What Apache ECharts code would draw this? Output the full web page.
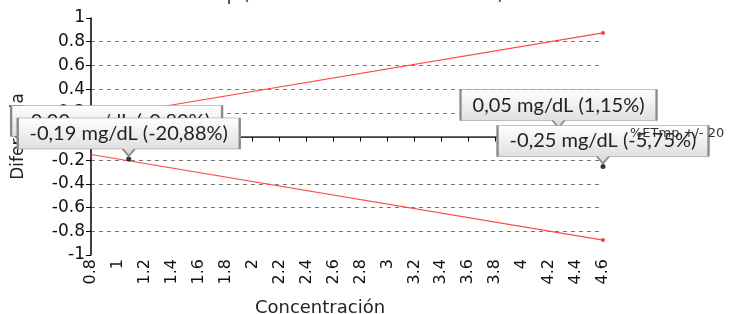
<!DOCTYPE html>
<html><head><meta charset="utf-8">
<script src="https://cdn.jsdelivr.net/npm/echarts@6/dist/echarts.min.js"></script>
<style>html,body{margin:0;padding:0;background:#fff}#c{width:736px;height:314px}</style>
</head><body><div id="c"></div>
<script>
// ---- data ----
const pointConc   = [0.99, 1.08, 4.27, 4.6];
const pointDiff   = [-0.085, -0.19, 0.05, -0.253];
const pointLabels = ['-0,00 mg/dL (-0,80%)', '-0,19 mg/dL (-20,88%)', '0,05 mg/dL (1,15%)', '-0,25 mg/dL (-5,75%)'];
const limitConc   = [0.8, 4.6];
const upperLimit  = [0.152, 0.874];
const lowerLimit  = [-0.152, -0.874];
const meanConc    = [0.8, 4.6];
const meanDiff    = [0, 0];
const limitName   = '%ETmp +/- 20';
const xName       = 'Concentración';
const yName       = 'Diferencia';
const titleText   = 'Diferencias ETmp (Diferencia absoluta vs media)';

// ---- drawing ----
const chart = echarts.init(document.getElementById('c'), null, {renderer: 'canvas'});
const CALLOUT_FONT_SIZE = 20;
const ctx = document.createElement('canvas').getContext('2d');
ctx.font = CALLOUT_FONT_SIZE + 'px Lato';
const BOX_H = 31, PTR = 7, PTR_HW = 6, GAP = 3, PAD = 12;
function calloutPath(W, H) {
  return 'path://M0,0H' + W + 'V' + H + 'H' + (W / 2 + PTR_HW) + 'L' + (W / 2) + ',' + (H + PTR) +
         'L' + (W / 2 - PTR_HW) + ',' + H + 'H0Z';
}
const grad = new echarts.graphic.LinearGradient(0, 0, 0, 1, [
  {offset: 0, color: '#ffffff'}, {offset: 1, color: '#d8d8d8'}]);
const calloutSeries = pointConc.map((x, i) => {
  const W = Math.round(ctx.measureText(pointLabels[i]).width + 2 * PAD);
  return {
    type: 'scatter', name: 'callout' + i, z: 4 + i, silent: true, clip: false,
    emphasis: {disabled: true},
    data: [{
      value: [x, pointDiff[i]],
      symbol: calloutPath(W, BOX_H),
      symbolSize: [W, BOX_H + PTR],
      symbolOffset: [0, -(GAP + (BOX_H + PTR) / 2)]
    }],
    itemStyle: {color: grad, borderColor: '#8a8a8a', borderWidth: 1, opacity: 1},
    label: {show: true, position: 'inside', offset: [0, -PTR / 2], formatter: pointLabels[i],
            fontFamily: 'Lato', fontSize: CALLOUT_FONT_SIZE, color: '#222'}
  };
});

ctx.font = '17px "DejaVu Sans"';
const pre = titleText.slice(0, titleText.indexOf('('));
const titleX = 243 - ctx.measureText(pre).width;

chart.setOption({
  animation: false,
  backgroundColor: '#ffffff',
  grid: {left: 91, right: 133, top: 18, bottom: 59, containLabel: false, outerBoundsMode: 'none'},
  xAxis: {
    type: 'value', min: 0.8, max: 4.6, interval: 0.2,
    name: xName, nameLocation: 'middle', nameGap: 44,
    nameTextStyle: {fontFamily: 'DejaVu Sans', fontSize: 18, color: '#222', padding: [0, 54, 0, 0]},
    axisLine: {lineStyle: {color: '#000', width: 1.5}},
    axisTick: {show: true, length: 5, lineStyle: {color: '#000'}},
    axisLabel: {rotate: 90, fontFamily: 'DejaVu Sans', fontSize: 16, color: '#111', margin: 4},
    splitLine: {show: false}
  },
  yAxis: {
    type: 'value', min: -1, max: 1, interval: 0.2,
    name: yName, nameLocation: 'middle', nameGap: 64,
    nameTextStyle: {fontFamily: 'DejaVu Sans', fontSize: 17, color: '#222'},
    axisLine: {show: true, lineStyle: {color: '#000', width: 1.5}},
    axisTick: {show: true, length: 5, lineStyle: {color: '#000'}},
    axisLabel: {fontFamily: 'DejaVu Sans', fontSize: 17, color: '#111', margin: 6},
    splitLine: {show: true, showMinLine: false, showMaxLine: false,
      lineStyle: {color: '#777', type: [4, 4], width: 1}}
  },
  series: [
    {type: 'line', name: 'mean', data: meanConc.map((x, i) => [x, meanDiff[i]]),
     symbol: 'none', lineStyle: {color: '#6a6a6a', width: 1.2}, z: 2, silent: true},
    {type: 'line', name: limitName, data: limitConc.map((x, i) => ({value: [x, upperLimit[i]], symbol: i === limitConc.length - 1 ? 'circle' : 'none'})),
     symbolSize: 4, showSymbol: true, clip: false, itemStyle: {color: '#ff3b3b'},
     lineStyle: {color: '#ff4a4a', width: 1.2}, z: 2, silent: true},
    {type: 'line', name: limitName + ' ', data: limitConc.map((x, i) => ({value: [x, lowerLimit[i]], symbol: i === limitConc.length - 1 ? 'circle' : 'none'})),
     symbolSize: 4, showSymbol: true, clip: false, itemStyle: {color: '#ff3b3b'},
     lineStyle: {color: '#ff4a4a', width: 1.2}, z: 2, silent: true},
    {type: 'scatter', name: 'points', data: pointConc.map((x, i) => [x, pointDiff[i]]),
     symbol: 'circle', symbolSize: 5, itemStyle: {color: '#000'}, z: 3, silent: true, clip: false}
  ].concat(calloutSeries),
  graphic: [
    {type: 'text', left: 630, top: 127, z: 100,
     style: {text: limitName, font: '13px "DejaVu Sans"', fill: '#333'}},
    {type: 'text', x: titleX, y: 4, z: 100,
     style: {text: titleText, font: '17px "DejaVu Sans"', fill: '#222', verticalAlign: 'bottom'}}
  ]
});
</script></body></html>
